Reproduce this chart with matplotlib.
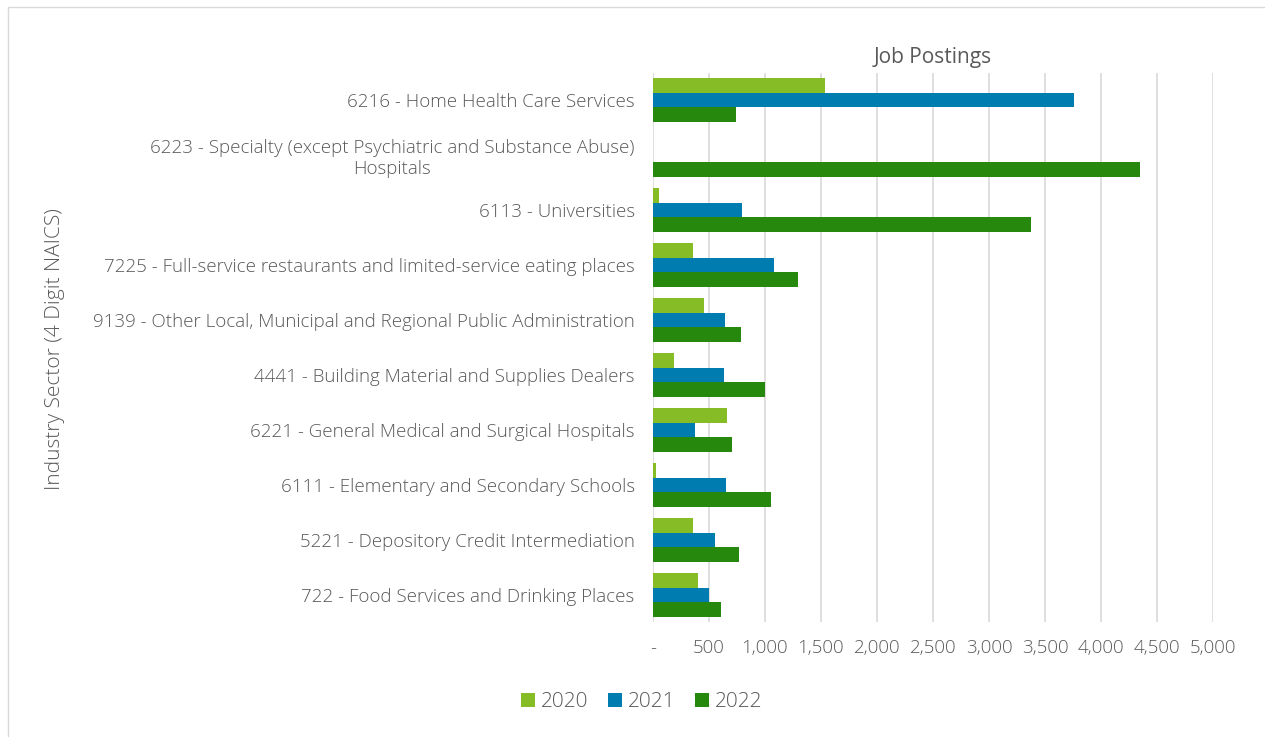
import matplotlib.pyplot as plt
import numpy as np
from matplotlib.patches import Rectangle
from matplotlib.ticker import FuncFormatter

plt.rcParams['font.family'] = ['Open Sans', 'DejaVu Sans']
plt.rcParams['font.weight'] = 'light'

#=========== Data ================
sectors = [
    "6216 - Home Health Care Services",
    "6223 - Specialty (except Psychiatric and Substance Abuse)\nHospitals",
    "6113 - Universities",
    "7225 - Full-service restaurants and limited-service eating places",
    "9139 - Other Local, Municipal and Regional Public Administration",
    "4441 - Building Material and Supplies Dealers",
    "6221 - General Medical and Surgical Hospitals",
    "6111 - Elementary and Secondary Schools",
    "5221 - Depository Credit Intermediation",
    "722 - Food Services and Drinking Places",
]
years = ["2020", "2021", "2022"]
postings_2020 = [1535, 0, 60, 363, 459, 189, 661, 29, 363, 402]
postings_2021 = [3760, 0, 792, 1080, 643, 640, 377, 651, 555, 502]
postings_2022 = [740, 4345, 3376, 1296, 786, 1002, 711, 1052, 768, 608]
colors = ["#86BC25", "#007CB0", "#26890D"]

#=========== Plot ================
fig = plt.figure(figsize=(12.65, 7.37), dpi=100)
ax = fig.add_axes([0.516, 0.1554, 0.443, 0.7462])

text_color = "#595959"
y = np.arange(len(sectors))
h = 0.27
for i, (vals, label) in enumerate(zip([postings_2020, postings_2021, postings_2022], years)):
    ax.barh(y + (i - 1) * h, vals, height=h, color=colors[i], label=label, zorder=3)

ax.set_ylim(len(sectors) - 0.5, -0.5)
ax.set_xlim(0, 5000)
ax.set_xticks(np.arange(0, 5001, 500))
ax.xaxis.set_major_formatter(FuncFormatter(lambda v, p: "-" if v == 0 else f"{int(v):,}"))
ax.set_yticks(y)
ax.set_yticklabels(sectors, multialignment="center", fontsize=13.8)
ax.tick_params(axis="both", length=0, labelsize=13.5, colors=text_color)
ax.tick_params(axis="x", pad=12)
ax.tick_params(axis="y", pad=13)
ax.grid(axis="x", color="#d9d9d9", linewidth=1.2, zorder=0)
for s in ax.spines.values():
    s.set_visible(False)

ax.set_title("Job Postings", fontsize=15, color=text_color, pad=7)
fig.text(0.0435, 0.526, "Industry Sector (4 Digit NAICS)", rotation=90,
         ha="center", va="center", fontsize=15, color=text_color)

ax.legend(loc="center", bbox_to_anchor=(0.5075, 0.047), bbox_transform=fig.transFigure,
          ncol=3, frameon=False, fontsize=15, labelcolor=text_color,
          handlelength=0.65, handleheight=0.65, handletextpad=0.3, columnspacing=0.95)

fig.patches.append(Rectangle((0.006, -0.01), 1.0, 1.0, transform=fig.transFigure,
                             fill=False, edgecolor="#d9d9d9", linewidth=1))

fig.savefig("out.png", dpi=100)
